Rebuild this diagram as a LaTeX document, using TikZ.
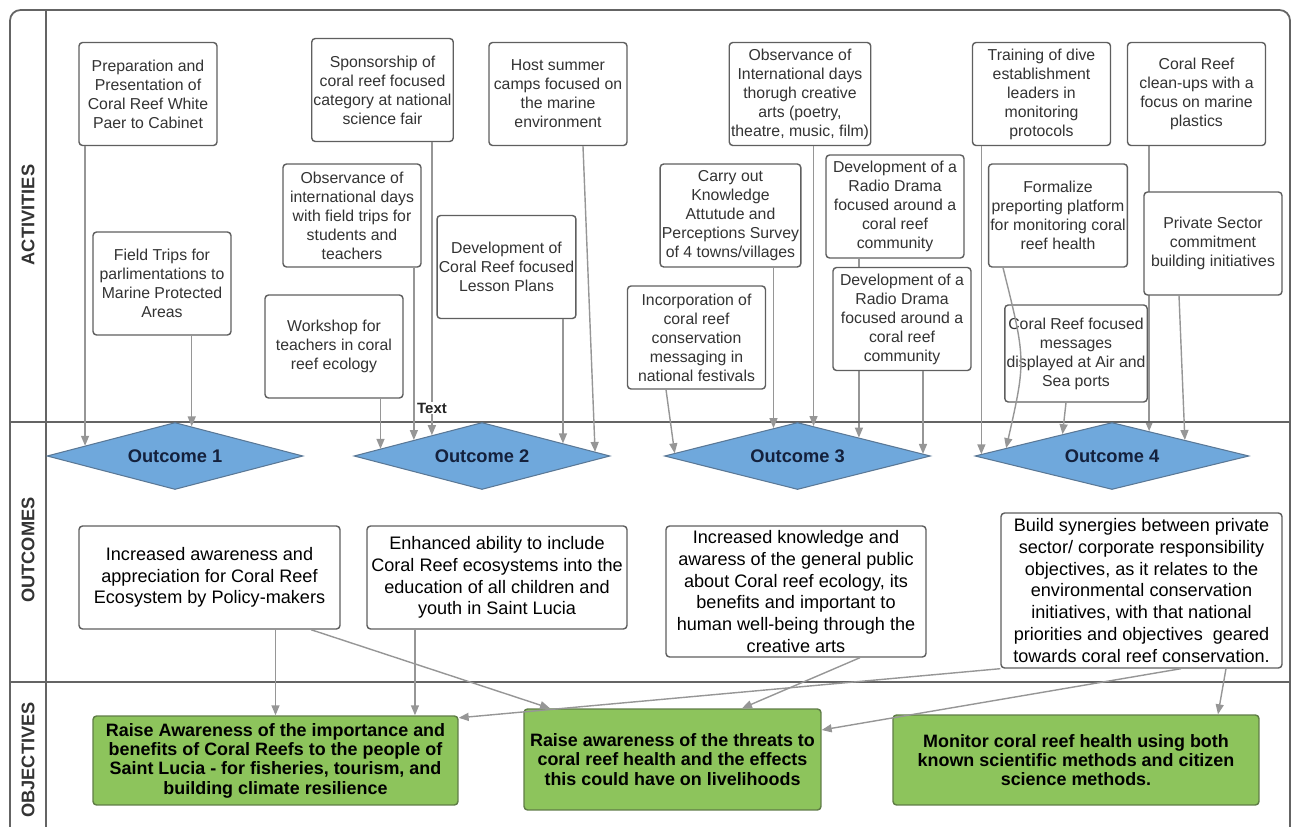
\documentclass[tikz,border=0pt]{standalone}
\usepackage{fontspec}
\setmainfont{Liberation Sans}
\usetikzlibrary{positioning, arrows.meta, calc, shapes.geometric, backgrounds}

\definecolor{boxgray}{RGB}{95,95,95}
\definecolor{linkgray}{RGB}{150,150,150}
\definecolor{lanegray}{RGB}{100,100,100}
\definecolor{outblue}{RGB}{111,168,220}
\definecolor{outedge}{RGB}{90,120,150}
\definecolor{outtext}{RGB}{20,33,61}
\definecolor{objgreen}{RGB}{141,196,92}
\definecolor{objedge}{RGB}{95,125,70}

\begin{document}
\begin{tikzpicture}[
    x=0.02cm, y=-0.02cm,
    lane/.style={draw=lanegray, line width=1pt},
    lanelabel/.style={rotate=90, text=black!80, font=\fontsize{10.4}{12}\selectfont\bfseries},
    activity/.style={rectangle, rounded corners=2pt, draw=boxgray, fill=white, line width=0.8pt, minimum width=2.76cm, minimum height=2.06cm, inner sep=1pt, align=center, text=black!80, font=\fontsize{9}{10.8}\selectfont},
    outcome/.style={diamond, aspect=4, draw=outedge, fill=outblue, line width=0.6pt, minimum height=1.34cm, inner sep=0pt, text=outtext, font=\fontsize{10.4}{12}\selectfont\bfseries},
    result/.style={rectangle, rounded corners=2pt, draw=boxgray, fill=white, line width=0.8pt, minimum height=2.06cm, inner sep=1pt, align=center, font=\fontsize{10.3}{12.4}\selectfont},
    objective/.style={rectangle, rounded corners=2pt, draw=objedge, fill=objgreen, line width=0.8pt, inner sep=1pt, align=center, font=\fontsize{10.2}{11}\selectfont\bfseries},
    link/.style={draw=linkgray, line width=0.8pt, -{Triangle[length=2mm,width=1.6mm]}}
  ]
    \useasboundingbox (0,0) rectangle (1292,827);

    % Swimlanes
    \draw[lane, rounded corners=6pt] (10,827) -- (10,10) -- (1290,10) -- (1290,827);
    \draw[lane] (46,10) -- (46,827);
    \draw[lane] (10,422) -- (1290,422);
    \draw[lane] (10,682) -- (1290,682);
    \node[lanelabel] (actlabel) at (28,215) {ACTIVITIES};
    \node[lanelabel] (outlabel) at (28,550) {OUTCOMES};
    \node[lanelabel] (objlabel) at (28,760) {OBJECTIVES};

    % Activities
    \node[activity] (prep) at (148,94) {Preparation and\\Presentation of\\Coral Reef White\\Paer to Cabinet};
    \node[activity] (fieldtrips) at (162,283.5) {Field Trips for\\parlimentations to\\Marine Protected\\Areas};
    \node[activity] (sponsor) at (382.5,90) {Sponsorship of\\coral reef focused\\category at national\\science fair};
    \node[activity] (obsfield) at (352,215.5) {Observance  of\\international days\\with field trips for\\students and\\teachers};
    \node[activity] (workshop) at (334,346.5) {Workshop for\\teachers in coral\\reef ecology};
    \node[activity] (lesson) at (506.5,267) {Development of\\Coral Reef focused\\Lesson Plans};
    \node[activity] (summer) at (558,94) {Host summer\\camps focused on\\the marine\\environment};
    \node[activity] (creative) at (800,94) {Observance of\\International days\\thorugh creative\\arts (poetry,\\theatre, music, film)};
    \node[activity] (survey) at (730.5,215.5) {Carry out\\Knowledge\\Attutude and\\Perceptions Survey\\of 4 towns/villages};
    \node[activity] (festivals) at (696.5,337.5) {Incorporation of\\coral reef\\conservation\\messaging in\\national festivals};
    \node[activity] (radio1) at (895,206.5) {Development of a\\Radio Drama\\focused around a\\coral reef\\community};
    \node[activity] (radio2) at (902,319) {Development of a\\Radio Drama\\focused around a\\coral reef\\community};
    \node[activity] (training) at (1041.5,94) {Training of dive\\establishment\\leaders in\\monitoring\\protocols};
    \node[activity] (cleanup) at (1196.5,94) {Coral Reef\\clean-ups with a\\focus on marine\\plastics};
    \node[activity] (formalize) at (1058,215.5) {Formalize\\preporting platform\\for monitoring coral\\reef health};
    \node[activity] (private) at (1213,243.5) {Private Sector\\commitment\\building initiatives};
    \node[activity, minimum height=1.94cm] (ports) at (1076,353.5) {Coral Reef focused\\messages\\displayed at Air and\\Sea ports};

    % Outcomes
    \node[outcome, minimum width=5.12cm] (out1) at (175,456) {Outcome 1};
    \node[outcome, minimum width=5.12cm] (out2) at (482,456) {Outcome 2};
    \node[outcome, minimum width=5.32cm] (out3) at (797.5,456) {Outcome 3};
    \node[outcome, minimum width=5.48cm] (out4) at (1112,456) {Outcome 4};

    \node[result, minimum width=5.22cm] (res1) at (209.5,577.5) {Increased awareness and\\appreciation for Coral Reef\\Ecosystem by Policy-makers};
    \node[result, minimum width=5.2cm] (res2) at (497,577.5) {Enhanced ability to include\\Coral Reef ecosystems into the\\education of all children and\\youth in Saint Lucia};
    \node[result, minimum width=5.2cm, minimum height=2.62cm] (res3) at (796,591.5) {Increased knowledge and\\awaress of the general public\\about Coral reef ecology, its\\benefits and important to\\human well-being through the\\creative arts};
    \node[result, minimum width=5.62cm, minimum height=3.1cm] (res4) at (1141.5,590.5) {Build synergies between private\\sector/ corporate responsibility\\objectives, as it relates to the\\environmental conservation\\initiatives, with that national\\priorities and objectives\ \ geared\\towards coral reef conservation.};

    % Objectives
    \node[objective, minimum width=7.3cm, minimum height=1.78cm] (obj1) at (275.5,760.5) {Raise Awareness of the importance and\\benefits of Coral Reefs to the people of\\Saint Lucia - for fisheries, tourism, and\\building climate resilience};
    \node[objective, minimum width=5.94cm, minimum height=2.02cm] (obj2) at (672.5,759.5) {Raise awareness of the threats to\\coral reef health and the effects\\this could have on livelihoods};
    \node[objective, minimum width=7.32cm, minimum height=1.8cm] (obj3) at (1076,760) {Monitor coral reef health using both\\known scientific methods and citizen\\science methods.};

    % Points on the diamond edges
    \coordinate (o1a) at ($(out1.west)!0.30!(out1.north)$);
    \coordinate (o1b) at ($(out1.north)!0.13!(out1.east)$);
    \coordinate (o2a) at ($(out2.west)!0.21!(out2.north)$);
    \coordinate (o2b) at ($(out2.west)!0.47!(out2.north)$);
    \coordinate (o2c) at ($(out2.west)!0.61!(out2.north)$);
    \coordinate (o2d) at ($(out2.north)!0.63!(out2.east)$);
    \coordinate (o2e) at ($(out2.north)!0.88!(out2.east)$);
    \coordinate (o3a) at ($(out3.west)!0.08!(out3.north)$);
    \coordinate (o3b) at ($(out3.west)!0.82!(out3.north)$);
    \coordinate (o3c) at ($(out3.north)!0.12!(out3.east)$);
    \coordinate (o3d) at ($(out3.north)!0.46!(out3.east)$);
    \coordinate (o3e) at ($(out3.north)!0.94!(out3.east)$);
    \coordinate (o4a) at ($(out4.west)!0.05!(out4.north)$);
    \coordinate (o4b) at ($(out4.west)!0.23!(out4.north)$);
    \coordinate (o4c) at ($(out4.west)!0.64!(out4.north)$);
    \coordinate (o4d) at ($(out4.north)!0.27!(out4.east)$);
    \coordinate (o4e) at ($(out4.north)!0.53!(out4.east)$);

    % Activities to outcomes
    \draw[link] (prep.south -| o1a) -- (o1a);
    \draw[link] (fieldtrips.south -| o1b) -- (o1b);
    \draw[link] (workshop.south -| o2a) -- (o2a);
    \draw[link] (obsfield.south -| o2b) -- (o2b);
    \draw[link] (sponsor.south -| o2c) -- (o2c);
    \draw[link] (lesson.south -| o2d) -- (o2d);
    \draw[link] ([xshift=0.5cm]summer.south) -- (o2e);
    \draw[link] ([xshift=-0.61cm]festivals.south) -- (o3a);
    \draw[link] (survey.south -| o3b) -- (o3b);
    \draw[link] (creative.south -| o3c) -- (o3c);
    \draw[link] (radio2.south -| o3e) -- (o3e);
    \draw[link] (training.south -| o4a) -- (o4a);
    \draw[link] ([xshift=-0.2cm]ports.south) -- (o4c);
    \draw[link] ([xshift=-0.68cm]private.south) -- (o4e);
    \begin{scope}[on background layer]
      \draw[link] (radio1.south -| o3d) -- (o3d);
      \draw[link] (cleanup.south -| o4d) -- (o4d);
    \end{scope}
    \draw[link] ([xshift=-1.1cm]formalize.south) .. controls (1026,360) .. (o4b);

    \node[fill=white, inner sep=0.5pt, text=black!85, font=\fontsize{8.5}{10}\selectfont\bfseries] (textlabel) at (432,408) {Text};

    % Outcomes to objectives
    \coordinate (obj1b) at ([xshift=2.79cm]obj1.north);
    \draw[link] (res1.south -| obj1.north) -- (obj1.north);
    \draw[link] (res2.south -| obj1b) -- (obj1b);
    \draw[link] ([xshift=2.03cm]res1.south) -- ([xshift=-2.45cm]obj2.north);
    \draw[link] ([xshift=1.28cm]res3.south) -- ([xshift=1.39cm]obj2.north);
    \draw[link] (res4.south west) -- ([yshift=-0.05cm]obj1.north east);
    \draw[link] ([xshift=0.79cm]res4.south) -- ([yshift=0.59cm]obj2.east);
    \draw[link] ([xshift=1.69cm]res4.south) -- ([xshift=2.84cm]obj3.north);
  \end{tikzpicture}
\end{document}
